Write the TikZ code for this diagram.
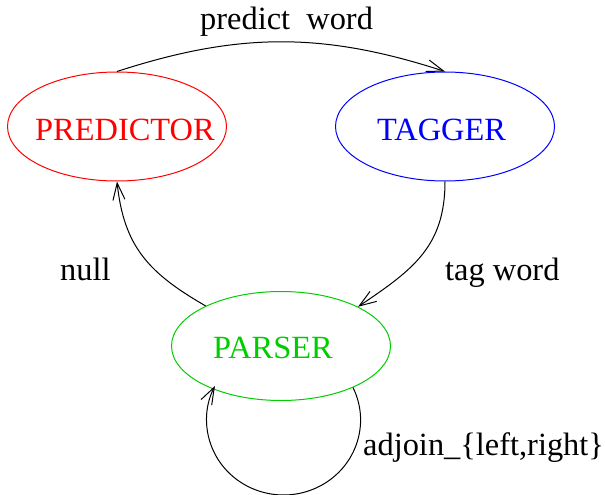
\documentclass[tikz,border=0pt]{standalone}
\usepackage{fontspec}
\setmainfont{Liberation Serif}
\usetikzlibrary{shapes.geometric,arrows.meta}
\definecolor{pgreen}{RGB}{0,205,0}
\begin{document}
\begin{tikzpicture}[x=1pt,y=1pt,
  state/.style={ellipse,draw,line width=1pt,minimum width=219pt,minimum height=109pt,inner sep=0pt},
  lbl/.style={font=\fontsize{32.4}{38}\selectfont,inner sep=0pt,anchor=base west},
  conn/.style={line width=1pt,-{Straight Barb[length=17pt,width=12pt,line width=1pt]}}]
\useasboundingbox (0,0) rectangle (605,-495);
\node[state,draw=red] (predictor) at (117,-126.5) {};
\node[state,draw=blue] (tagger) at (445,-126.5) {};
\node[state,draw=pgreen] (parser) at (281,-346) {};
\node[lbl,text=red] (tpred) at (35,-140) {PREDICTOR};
\node[lbl,text=blue] (ttag) at (377,-140) {TAGGER};
\node[lbl,text=pgreen] (tpars) at (213,-358) {PARSER};
\node[lbl] (lpred) at (200,-30) {predict\ \ word};
\node[lbl] (lnull) at (60,-280) {null};
\node[lbl] (ltag) at (445,-280) {tag word};
\node[lbl] (ladj) at (363,-455) {adjoin\_\{left,right\}};
\draw[conn] (predictor.north) to[out=18,in=162] (tagger.north);
\draw[conn] (tagger.south) to[out=-90,in=34,looseness=1.1] (parser.27);
\draw[conn] (parser.152) to[out=150,in=-84,looseness=1.1] (predictor.south);
\draw[conn] (parser.-30.7) arc[start angle=25.6,end angle=-207,x radius=77,y radius=75];
\end{tikzpicture}
\end{document}
